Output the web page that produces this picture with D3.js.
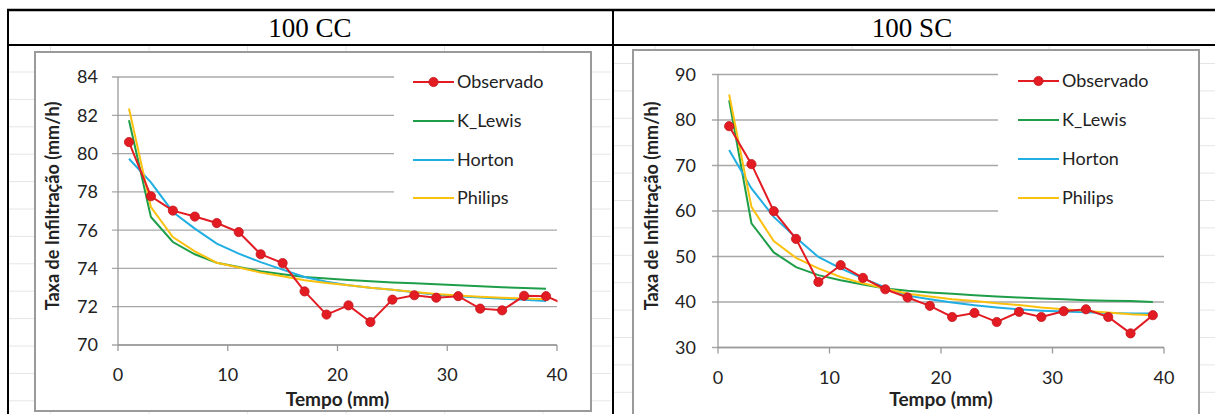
<!DOCTYPE html>
<html lang="pt">
<head>
<meta charset="UTF-8">
<title>Taxa de Infiltração</title>
<script src="https://d3js.org/d3.v7.min.js"></script>
<style>
    body { margin: 0; background: #fff; }
    svg text { font-family: Lato, "Open Sans", sans-serif; fill: #222; }
    .cap { font-family: "Liberation Serif", "DejaVu Serif", serif !important; font-size: 27px; fill: #000; }
    .tick-lbl { font-size: 18px; }
    .ax-title { font-size: 18px; font-weight: bold; }
    .ax-title.x { font-size: 19px; }
    .leg { font-size: 18px; }
</style>
</head>
<body>
<svg id="svg" width="1215" height="414"></svg>
<script>

// ---- data ----
let series = ['Observado', 'K_Lewis', 'Horton', 'Philips'];
let colors = ['#e31b23', '#1f9e4a', '#21aee3', '#fcc10f'];

let tempo = [1, 3, 5, 7, 9, 11, 13, 15, 17, 19, 21, 23, 25, 27, 29, 31, 33, 35, 37, 39];
let tempoObsCC = [1, 3, 5, 7, 9, 11, 13, 15, 17, 19, 21, 23, 25, 27, 29, 31, 33, 35, 37, 39, 41];

// 100 CC
let obsCC    = [80.6, 77.77, 77.02, 76.71, 76.37, 75.9, 74.74, 74.28, 72.8, 71.59, 72.07, 71.2, 72.37, 72.6, 72.47, 72.55, 71.9, 71.81, 72.57, 72.55, 72.05];
let lewisCC  = [81.74, 76.69, 75.38, 74.74, 74.3, 74.07, 73.85, 73.69, 73.55, 73.47, 73.4, 73.33, 73.27, 73.22, 73.17, 73.12, 73.07, 73.02, 72.98, 72.94];
let hortonCC = [79.73, 78.5, 76.95, 76.08, 75.3, 74.77, 74.33, 73.94, 73.55, 73.3, 73.12, 72.99, 72.89, 72.75, 72.63, 72.55, 72.48, 72.42, 72.36, 72.3];
let philipCC = [82.35, 77.2, 75.64, 74.89, 74.3, 74.05, 73.78, 73.59, 73.38, 73.24, 73.12, 72.99, 72.89, 72.77, 72.66, 72.59, 72.52, 72.47, 72.43, 72.39];

// 100 SC
let obsSC    = [78.64, 70.3, 59.96, 53.87, 44.4, 48.1, 45.3, 42.8, 41.0, 39.15, 36.7, 37.6, 35.6, 37.83, 36.7, 37.98, 38.4, 36.7, 33.1, 37.1];
let lewisSC  = [84.35, 57.3, 50.9, 47.65, 45.9, 44.8, 43.85, 42.97, 42.45, 42.1, 41.8, 41.5, 41.2, 40.98, 40.76, 40.58, 40.4, 40.3, 40.2, 40.0];
let hortonSC = [73.4, 64.95, 58.7, 54.1, 49.9, 47.4, 45.2, 43.2, 41.4, 40.6, 39.9, 39.3, 38.8, 38.4, 38.1, 37.9, 37.75, 37.6, 37.5, 37.45];
let philipSC = [85.6, 60.9, 53.4, 49.7, 47.4, 45.5, 44.1, 42.97, 41.8, 41.2, 40.6, 40.2, 39.7, 39.35, 38.8, 38.4, 38.05, 37.7, 37.3, 37.1];

let xTicks = [0, 10, 20, 30, 40];
let yTicksCC = [70, 72, 74, 76, 78, 80, 82, 84];
let yTicksSC = [30, 40, 50, 60, 70, 80, 90];

let svg = d3.select('#svg');

// ---- table layout ----
let tbl = svg.append('g');

// faint spreadsheet cells behind the charts
function cellGrid(x0, x1, y0, y1, xStart, yStart) {
    let g = tbl.append('g').attr('stroke', '#e6e6e6').attr('stroke-width', 1);
    for (let x = xStart; x < x1; x += 98.5)
        g.append('line').attr('x1', x).attr('x2', x).attr('y1', y0).attr('y2', y1);
    for (let y = yStart; y < y1; y += 27.4)
        g.append('line').attr('x1', x0).attr('x2', x1).attr('y1', y).attr('y2', y);
}
cellGrid(9, 611, 46, 414, 50.5, 72);
cellGrid(614, 1215, 46, 414, 655, 63.5);

tbl.append('line').attr('x1', 7).attr('x2', 1215).attr('y1', 10).attr('y2', 10)
    .attr('stroke', '#000').attr('stroke-width', 2.5);
tbl.append('line').attr('x1', 7).attr('x2', 1215).attr('y1', 45).attr('y2', 45)
    .attr('stroke', '#000').attr('stroke-width', 2);
tbl.append('line').attr('x1', 8).attr('x2', 8).attr('y1', 9).attr('y2', 414)
    .attr('stroke', '#000').attr('stroke-width', 2);
tbl.append('line').attr('x1', 613).attr('x2', 613).attr('y1', 9).attr('y2', 414)
    .attr('stroke', '#000').attr('stroke-width', 2);

tbl.append('text').attr('class', 'cap').attr('x', 310).attr('y', 37)
    .attr('text-anchor', 'middle').text('100 CC');
tbl.append('text').attr('class', 'cap').attr('x', 912).attr('y', 37)
    .attr('text-anchor', 'middle').text('100 SC');

// ---- one chart ----
function drawChart(opt) {
    let g = svg.append('g');

    // chart frame
    g.append('rect')
        .attr('x', opt.frame[0]).attr('y', opt.frame[1])
        .attr('width', opt.frame[2] - opt.frame[0]).attr('height', opt.frame[3] - opt.frame[1])
        .attr('fill', '#fff').attr('stroke', '#9a9a9a').attr('stroke-width', 2);

    let x = d3.scaleLinear().domain([0, 40]).range([opt.plot[0], opt.plot[1]]);
    let y = d3.scaleLinear().domain(opt.yDomain).range([opt.plot[3], opt.plot[2]]);

    // gridlines + y ticks
    g.append('g').selectAll('line').data(opt.yTicks).enter().append('line')
        .attr('x1', opt.plot[0] - 6).attr('x2', opt.plot[1])
        .attr('y1', d => y(d)).attr('y2', d => y(d))
        .attr('stroke', '#a8a8a8').attr('stroke-width', 1.3);

    // axes
    g.append('line').attr('x1', x(0)).attr('x2', x(0))
        .attr('y1', opt.plot[2]).attr('y2', opt.plot[3])
        .attr('stroke', '#9a9a9a').attr('stroke-width', 1.3);
    g.append('line').attr('x1', x(0)).attr('x2', x(40))
        .attr('y1', opt.plot[3]).attr('y2', opt.plot[3])
        .attr('stroke', '#9a9a9a').attr('stroke-width', 1.3);
    g.append('g').selectAll('line').data(xTicks).enter().append('line')
        .attr('x1', d => x(d)).attr('x2', d => x(d))
        .attr('y1', opt.plot[3]).attr('y2', opt.plot[3] + 6)
        .attr('stroke', '#9a9a9a').attr('stroke-width', 1.3);

    g.append('g').selectAll('text').data(opt.yTicks).enter().append('text')
        .attr('class', 'tick-lbl')
        .attr('x', opt.plot[0] - opt.lblGap).attr('y', d => y(d))
        .attr('dy', '0.36em').attr('text-anchor', 'end')
        .text(d => d);
    g.append('g').selectAll('text').data(xTicks).enter().append('text')
        .attr('class', 'tick-lbl')
        .attr('x', d => x(d)).attr('y', opt.plot[3] + 30)
        .attr('dy', '0.36em').attr('text-anchor', 'middle')
        .text(d => d);

    // axis titles
    g.append('text').attr('class', 'ax-title')
        .attr('transform', `translate(${opt.yTitleX},206) rotate(-90)`)
        .attr('text-anchor', 'middle').attr('dy', '0.36em')
        .text('Taxa de Infiltração (mm/h)');
    g.append('text').attr('class', 'ax-title x')
        .attr('x', (opt.plot[0] + opt.plot[1]) / 2).attr('y', 399)
        .attr('text-anchor', 'middle').attr('dy', '0.36em')
        .text('Tempo (mm)');

    // legend box hides gridlines behind it
    g.append('rect')
        .attr('x', opt.legend[0]).attr('y', opt.frame[1] + 6)
        .attr('width', opt.frame[2] - opt.legend[0] - 4).attr('height', opt.legend[1] - opt.frame[1] - 6)
        .attr('fill', '#fff');

    // series
    let clipId = 'clip' + opt.id;
    g.append('clipPath').attr('id', clipId).append('rect')
        .attr('x', opt.plot[0]).attr('y', opt.plot[2] - 20)
        .attr('width', opt.plot[1] - opt.plot[0] + 0.5).attr('height', opt.plot[3] - opt.plot[2] + 40);

    let line = d3.line().x(d => x(d[0])).y(d => y(d[1]));
    let plot = g.append('g').attr('clip-path', `url(#${clipId})`);

    let pts = opt.values.map((vals, i) => vals.map((v, k) => [opt.xs[i][k], v]));
    [1, 2, 3].forEach(i => {
        plot.append('path').datum(pts[i])
            .attr('d', line).attr('fill', 'none')
            .attr('stroke', colors[i]).attr('stroke-width', 2);
    });
    plot.append('path').datum(pts[0])
        .attr('d', line).attr('fill', 'none')
        .attr('stroke', colors[0]).attr('stroke-width', 2);
    plot.append('g').selectAll('circle').data(pts[0].filter(d => d[0] <= 40)).enter().append('circle')
        .attr('cx', d => x(d[0])).attr('cy', d => y(d[1])).attr('r', 4.6)
        .attr('fill', colors[0]).attr('stroke', '#c3161c').attr('stroke-width', 0.8);

    // legend
    let leg = g.append('g').selectAll('g').data(series).enter().append('g')
        .attr('transform', (d, i) => `translate(${opt.legend[2]},${opt.legendY[i]})`);
    leg.append('line').attr('x1', 0).attr('x2', 41)
        .attr('stroke', (d, i) => colors[i]).attr('stroke-width', 2);
    leg.filter((d, i) => i === 0).append('circle')
        .attr('cx', 20.5).attr('r', 4.6).attr('fill', colors[0])
        .attr('stroke', '#c3161c').attr('stroke-width', 0.8);
    leg.append('text').attr('class', 'leg')
        .attr('x', 44).attr('dy', '0.36em').text(d => d);
}

drawChart({
    id: 'cc',
    frame: [35, 52, 591, 411],
    plot: [118, 557, 77, 345],
    yDomain: [70, 84],
    yTicks: yTicksCC,
    lblGap: 20,
    yTitleX: 53,
    legend: [394, 215, 413],
    legendY: [82, 121, 160, 198],
    xs: [tempoObsCC, tempo, tempo, tempo],
    values: [obsCC, lewisCC, hortonCC, philipCC]
});

drawChart({
    id: 'sc',
    frame: [633, 50, 1199, 416],
    plot: [718, 1164, 74.5, 347.5],
    yDomain: [30, 90],
    yTicks: yTicksSC,
    lblGap: 22,
    yTitleX: 652,
    legend: [998, 230, 1018],
    legendY: [81, 120, 159, 198],
    xs: [tempo, tempo, tempo, tempo],
    values: [obsSC, lewisSC, hortonSC, philipSC]
});

</script>
</body>
</html>
